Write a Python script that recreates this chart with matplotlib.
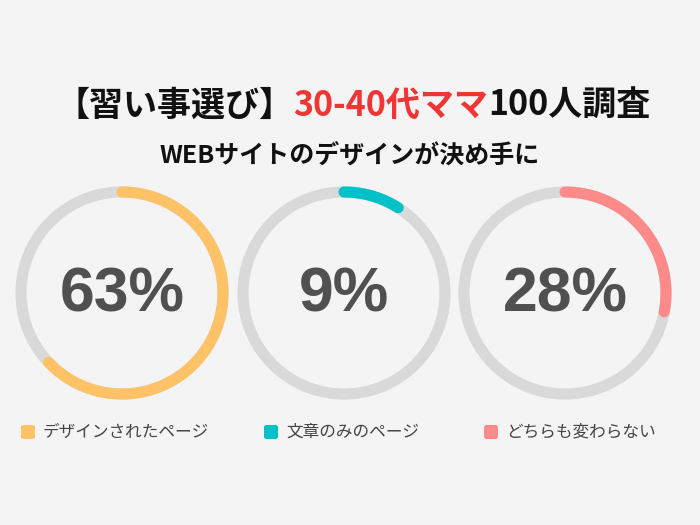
import matplotlib
matplotlib.use("Agg")
import matplotlib.pyplot as plt
import numpy as np
from matplotlib.offsetbox import TextArea, HPacker, AnchoredOffsetbox
from matplotlib.patches import FancyBboxPatch

plt.rcParams["font.family"] = ["Noto Sans CJK JP", "DejaVu Sans"]

# data
labels = ["デザインされたページ", "文章のみのページ", "どちらも変わらない"]
values = [63, 9, 28]
colors = ["#ffc266", "#00c0c8", "#ff8a8a"]
track_color = "#d9d9d9"

title_parts = ["【習い事選び】", "30-40代ママ", "100人調査"]
title_colors = ["#111111", "#f03535", "#111111"]
subtitle = "WEBサイトのデザインが決め手に"

# layout (pixels)
centers_x = [122, 344, 565]
center_y = 293
radius = 101
ring_lw = 8.0
legend_x = [20, 263, 483]
legend_y = 432

fig = plt.figure(figsize=(7, 5.25), dpi=100)
fig.patch.set_facecolor("#f4f4f4")
ax = fig.add_axes([0, 0, 1, 1])
ax.set_xlim(0, 700)
ax.set_ylim(525, 0)
ax.set_aspect("equal")
ax.axis("off")

# title made of coloured parts
parts = [TextArea(t, textprops=dict(color=c, fontsize=24.5, fontweight="bold"))
         for t, c in zip(title_parts, title_colors)]
box = HPacker(children=parts, align="baseline", pad=0, sep=0)
anchored = AnchoredOffsetbox(loc="center", child=box, frameon=False,
                             bbox_to_anchor=(353 / 700, 1 - 105 / 525),
                             bbox_transform=fig.transFigure, pad=0, borderpad=0)
ax.add_artist(anchored)

ax.text(350, 155, subtitle, ha="center", va="center", fontsize=18,
        fontweight="bold", color="#111111")

# donut rings
theta_full = np.linspace(0, 2 * np.pi, 400)
for cx, val, col in zip(centers_x, values, colors):
    ax.plot(cx + radius * np.cos(theta_full), center_y + radius * np.sin(theta_full),
            color=track_color, lw=ring_lw, solid_capstyle="butt", zorder=1)
    th = np.linspace(0, 2 * np.pi * val / 100, 300)
    # start at top, go clockwise (y axis inverted)
    xs = cx + radius * np.sin(th)
    ys = center_y - radius * np.cos(th)
    ax.plot(xs, ys, color=col, lw=ring_lw, solid_capstyle="round", zorder=2)
    ax.text(cx, center_y + 2, f"{val}%", ha="center", va="center", fontsize=45,
            fontweight="bold", color="#505050",
            family=["Liberation Sans", "DejaVu Sans"])

# legend
for lx, lab, col in zip(legend_x, labels, colors):
    ax.add_patch(FancyBboxPatch((lx + 1, legend_y - 7), 14, 14,
                                boxstyle="round,pad=0,rounding_size=2.5",
                                facecolor=col, edgecolor="none"))
    ax.text(lx + 23, legend_y, lab, ha="left", va="center", fontsize=12,
            color="#444444")

fig.savefig("out.png", dpi=100, facecolor=fig.get_facecolor())
